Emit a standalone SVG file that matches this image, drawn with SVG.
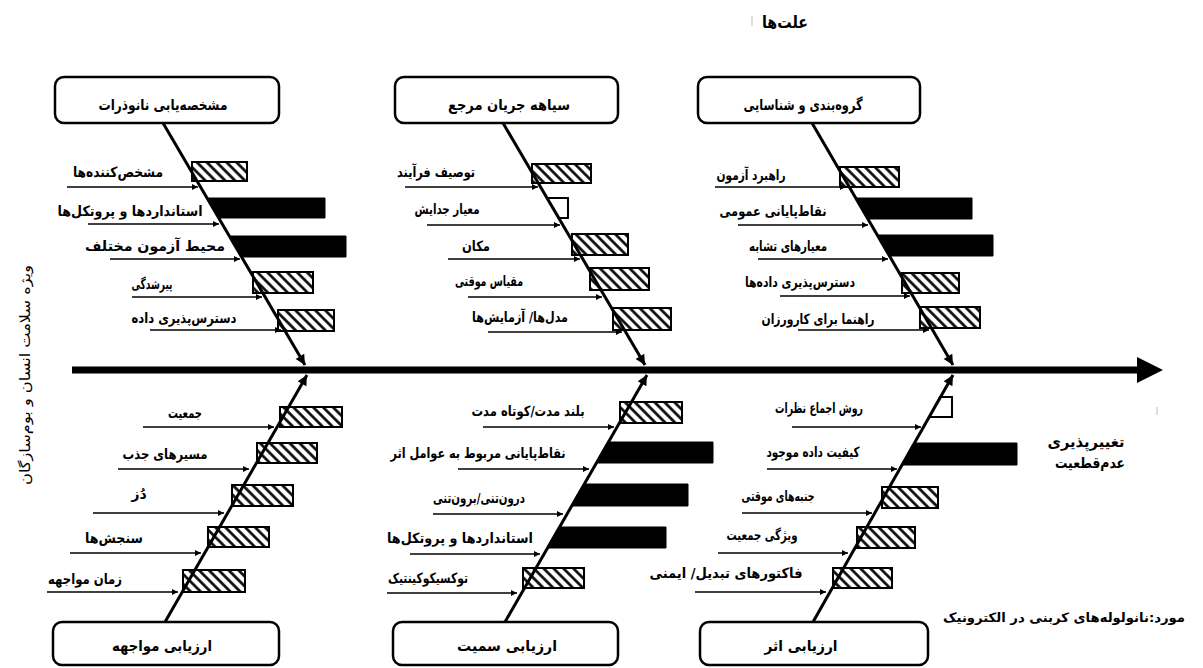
<svg xmlns="http://www.w3.org/2000/svg" width="1203" height="668" viewBox="0 0 1203 668">
<style>
.lbl{font-family:"DejaVu Sans",sans-serif;font-size:14px;font-weight:bold;fill:#000;text-anchor:middle}
.ttl{font-family:"DejaVu Sans",sans-serif;font-size:15px;font-weight:bold;fill:#000;text-anchor:middle}
.side{font-family:"DejaVu Sans",sans-serif;font-size:14px;fill:#000;text-anchor:middle}
.box{fill:#fff;stroke:#000;stroke-width:2.5}
.bone{stroke:#000;stroke-width:3;fill:none}
.sub{stroke:#000;stroke-width:1.6;fill:none}
.hb{fill:url(#hatch);stroke:#000;stroke-width:2}
.bb{fill:#000;stroke:#000;stroke-width:1}
.wb{fill:#fff;stroke:#000;stroke-width:2}
</style>
<defs>
<pattern id="hatch" patternUnits="userSpaceOnUse" width="7" height="7" patternTransform="rotate(-45)">
<rect width="7" height="7" fill="#fff"/>
<line x1="3.5" y1="0" x2="3.5" y2="7" stroke="#000" stroke-width="2.6"/>
</pattern>
<marker id="ah" viewBox="0 0 10 10" refX="10" refY="5" markerWidth="8" markerHeight="6" markerUnits="userSpaceOnUse" orient="auto"><path d="M0,0 L10,5 L0,10 z" fill="#000"/></marker>
<marker id="bh" viewBox="0 0 10 10" refX="10" refY="5" markerWidth="13" markerHeight="10" markerUnits="userSpaceOnUse" orient="auto"><path d="M0,0 L10,5 L0,10 z" fill="#000"/></marker>
</defs>
<rect width="1203" height="668" fill="#fff"/>

<text x="785" y="28" font-family="DejaVu Sans,sans-serif" font-size="17" font-weight="bold" text-anchor="middle" textLength="46" lengthAdjust="spacingAndGlyphs">علت‌ها</text>
<line x1="752" y1="16" x2="752" y2="26" stroke="#bbb" stroke-width="1"/>
<line x1="1157" y1="407" x2="1157" y2="415" stroke="#bbb" stroke-width="1"/>

<g id="bars">
<rect class="hb" x="192" y="162" width="55" height="19"/>
<polygon class="bb" points="207,198 325,198 325,218 219,218"/>
<polygon class="bb" points="229,236 346,236 346,257 242,257"/>
<rect class="hb" x="253" y="272" width="60" height="21"/>
<rect class="hb" x="278" y="310" width="56" height="21"/>
<rect class="hb" x="532" y="164" width="59" height="19"/>
<polygon class="wb" points="547,198 568,198 568,218 559,218"/>
<rect class="hb" x="572" y="234" width="56" height="21"/>
<rect class="hb" x="590" y="268" width="59" height="22"/>
<rect class="hb" x="613" y="308" width="58" height="22"/>
<rect class="hb" x="840" y="167" width="59" height="20"/>
<polygon class="bb" points="856,198 972,198 972,219 868,219"/>
<polygon class="bb" points="877,235 993,235 993,256 890,256"/>
<rect class="hb" x="902" y="273" width="57" height="20"/>
<rect class="hb" x="920" y="307" width="60" height="21"/>
<rect class="hb" x="280" y="407" width="62" height="20"/>
<rect class="hb" x="257" y="443" width="60" height="20"/>
<rect class="hb" x="232" y="485" width="61" height="21"/>
<rect class="hb" x="208" y="527" width="61" height="20"/>
<rect class="hb" x="183" y="570" width="62" height="22"/>
<rect class="hb" x="620" y="402" width="62" height="21"/>
<polygon class="bb" points="608,442 713,442 713,463 596,463"/>
<polygon class="bb" points="584,484 688,484 688,506 571,506"/>
<polygon class="bb" points="559,527 666,527 666,548 547,548"/>
<rect class="hb" x="523" y="568" width="61" height="20"/>
<polygon class="wb" points="940,397 952,397 952,417 929,417"/>
<polygon class="bb" points="914,443 1017,443 1017,465 902,465"/>
<rect class="hb" x="882" y="487" width="56" height="21"/>
<rect class="hb" x="857" y="527" width="58" height="21"/>
<rect class="hb" x="833" y="568" width="59" height="20"/>
</g>

<g id="connectors">
<line x1="72" y1="370" x2="1140" y2="370" stroke="#000" stroke-width="7"/>
<polygon points="1137,357 1163,370 1137,383" fill="#000"/>
<line class="bone" x1="163" y1="123" x2="305" y2="365" marker-end="url(#bh)"/>
<line class="bone" x1="503" y1="123" x2="645" y2="365" marker-end="url(#bh)"/>
<line class="bone" x1="812" y1="123" x2="953" y2="365" marker-end="url(#bh)"/>
<line class="bone" x1="165" y1="622" x2="307" y2="375" marker-end="url(#bh)"/>
<line class="bone" x1="505" y1="622" x2="647" y2="375" marker-end="url(#bh)"/>
<line class="bone" x1="813" y1="622" x2="953" y2="375" marker-end="url(#bh)"/>

<line class="sub" x1="67" y1="187" x2="198" y2="187" marker-end="url(#ah)"/>
<line class="sub" x1="88" y1="224" x2="219" y2="224" marker-end="url(#ah)"/>
<line class="sub" x1="110" y1="259" x2="240" y2="259" marker-end="url(#ah)"/>
<line class="sub" x1="132" y1="297" x2="262" y2="297" marker-end="url(#ah)"/>
<line class="sub" x1="150" y1="330" x2="281" y2="330" marker-end="url(#ah)"/>

<line class="sub" x1="405" y1="187" x2="538" y2="187" marker-end="url(#ah)"/>
<line class="sub" x1="427" y1="225" x2="560" y2="225" marker-end="url(#ah)"/>
<line class="sub" x1="448" y1="259" x2="580" y2="259" marker-end="url(#ah)"/>
<line class="sub" x1="468" y1="297" x2="602" y2="297" marker-end="url(#ah)"/>
<line class="sub" x1="488" y1="332" x2="622" y2="332" marker-end="url(#ah)"/>

<line class="sub" x1="715" y1="187" x2="846" y2="187" marker-end="url(#ah)"/>
<line class="sub" x1="738" y1="225" x2="868" y2="225" marker-end="url(#ah)"/>
<line class="sub" x1="758" y1="259" x2="888" y2="259" marker-end="url(#ah)"/>
<line class="sub" x1="780" y1="296" x2="910" y2="296" marker-end="url(#ah)"/>
<line class="sub" x1="798" y1="330" x2="929" y2="330" marker-end="url(#ah)"/>

<line class="sub" x1="143" y1="427" x2="274" y2="427" marker-end="url(#ah)"/>
<line class="sub" x1="118" y1="469" x2="249" y2="469" marker-end="url(#ah)"/>
<line class="sub" x1="93" y1="513" x2="224" y2="513" marker-end="url(#ah)"/>
<line class="sub" x1="70" y1="553" x2="201" y2="553" marker-end="url(#ah)"/>
<line class="sub" x1="47" y1="592" x2="178" y2="592" marker-end="url(#ah)"/>

<line class="sub" x1="483" y1="427" x2="614" y2="427" marker-end="url(#ah)"/>
<line class="sub" x1="458" y1="469" x2="589" y2="469" marker-end="url(#ah)"/>
<line class="sub" x1="433" y1="514" x2="563" y2="514" marker-end="url(#ah)"/>
<line class="sub" x1="410" y1="554" x2="540" y2="554" marker-end="url(#ah)"/>
<line class="sub" x1="387" y1="593" x2="517" y2="593" marker-end="url(#ah)"/>

<line class="sub" x1="792" y1="427" x2="921" y2="427" marker-end="url(#ah)"/>
<line class="sub" x1="767" y1="469" x2="897" y2="469" marker-end="url(#ah)"/>
<line class="sub" x1="742" y1="513" x2="872" y2="513" marker-end="url(#ah)"/>
<line class="sub" x1="718" y1="553" x2="848" y2="553" marker-end="url(#ah)"/>
<line class="sub" x1="695" y1="592" x2="826" y2="592" marker-end="url(#ah)"/>
</g>

<g id="labels">
<text class="lbl" x="118" y="177" textLength="90" lengthAdjust="spacingAndGlyphs">مشخص‌کننده‌ها</text>
<text class="lbl" x="130" y="216" textLength="145" lengthAdjust="spacingAndGlyphs">استانداردها و پروتکل‌ها</text>
<text class="lbl" x="155" y="251" textLength="140" lengthAdjust="spacingAndGlyphs">محیط آزمون مختلف</text>
<text class="lbl" x="152" y="289" textLength="41" lengthAdjust="spacingAndGlyphs">پیرشدگی</text>
<text class="lbl" x="184" y="323" textLength="105" lengthAdjust="spacingAndGlyphs">دسترس‌پذیری داده</text>

<text class="lbl" x="436" y="177" textLength="78" lengthAdjust="spacingAndGlyphs">توصیف فرآیند</text>
<text class="lbl" x="447" y="214" textLength="65" lengthAdjust="spacingAndGlyphs">معیار جدایش</text>
<text class="lbl" x="476" y="251" textLength="28" lengthAdjust="spacingAndGlyphs">مکان</text>
<text class="lbl" x="489" y="286" textLength="68" lengthAdjust="spacingAndGlyphs">مقیاس موقتی</text>
<text class="lbl" x="520" y="322" textLength="96" lengthAdjust="spacingAndGlyphs">مدل‌ها/ آزمایش‌ها</text>

<text class="lbl" x="751" y="180" textLength="69" lengthAdjust="spacingAndGlyphs">راهبرد آزمون</text>
<text class="lbl" x="773" y="216" textLength="107" lengthAdjust="spacingAndGlyphs">نقاط‌پایانی عمومی</text>
<text class="lbl" x="788" y="251" textLength="78" lengthAdjust="spacingAndGlyphs">معیارهای تشابه</text>
<text class="lbl" x="800" y="287" textLength="110" lengthAdjust="spacingAndGlyphs">دسترس‌پذیری داده‌ها</text>
<text class="lbl" x="818" y="324" textLength="113" lengthAdjust="spacingAndGlyphs">راهنما برای کارورزان</text>

<text class="lbl" x="185" y="418" textLength="34" lengthAdjust="spacingAndGlyphs">جمعیت</text>
<text class="lbl" x="165" y="459" textLength="85" lengthAdjust="spacingAndGlyphs">مسیرهای جذب</text>
<text class="lbl" x="139" y="499">دُز</text>
<text class="lbl" x="114" y="543" textLength="58" lengthAdjust="spacingAndGlyphs">سنجش‌ها</text>
<text class="lbl" x="85" y="584" textLength="74" lengthAdjust="spacingAndGlyphs">زمان مواجهه</text>

<text class="lbl" x="528" y="416" textLength="113" lengthAdjust="spacingAndGlyphs">بلند مدت/کوتاه مدت</text>
<text class="lbl" x="478" y="458" textLength="175" lengthAdjust="spacingAndGlyphs">نقاط‌پایانی مربوط به عوامل اثر</text>
<text class="lbl" x="479" y="503" textLength="92" lengthAdjust="spacingAndGlyphs">درون‌تنی/برون‌تنی</text>
<text class="lbl" x="460" y="543" textLength="146" lengthAdjust="spacingAndGlyphs">استانداردها و پروتکل‌ها</text>
<text class="lbl" x="428" y="583" textLength="80" lengthAdjust="spacingAndGlyphs">توکسیکوکینتیک</text>

<text class="lbl" x="819" y="413" textLength="88" lengthAdjust="spacingAndGlyphs">روش اجماع نظرات</text>
<text class="lbl" x="813" y="457" textLength="93" lengthAdjust="spacingAndGlyphs">کیفیت داده موجود</text>
<text class="lbl" x="778" y="501" textLength="73" lengthAdjust="spacingAndGlyphs">جنبه‌های موقتی</text>
<text class="lbl" x="762" y="540" textLength="71" lengthAdjust="spacingAndGlyphs">ویژگی جمعیت</text>
<text class="lbl" x="726" y="578" textLength="153" lengthAdjust="spacingAndGlyphs">فاکتورهای تبدیل/ ایمنی</text>
</g>

<g id="node-characterization">
<rect class="box" x="55" y="77" width="224" height="46" rx="9"/>
<text class="ttl" x="163" y="110" textLength="129" lengthAdjust="spacingAndGlyphs">مشخصه‌یابی نانوذرات</text>
</g>
<g id="node-reference-flow">
<rect class="box" x="395" y="77" width="223" height="46" rx="9"/>
<text class="ttl" x="509" y="110" textLength="122" lengthAdjust="spacingAndGlyphs">سیاهه جریان مرجع</text>
</g>
<g id="node-grouping">
<rect class="box" x="698" y="77" width="222" height="46" rx="9"/>
<text class="ttl" x="803" y="110" textLength="119" lengthAdjust="spacingAndGlyphs">گروه‌بندی و شناسایی</text>
</g>
<g id="node-exposure">
<rect class="box" x="53" y="622" width="226" height="43" rx="9"/>
<text class="ttl" x="162" y="651" textLength="100" lengthAdjust="spacingAndGlyphs">ارزیابی مواجهه</text>
</g>
<g id="node-toxicity">
<rect class="box" x="393" y="622" width="225" height="43" rx="9"/>
<text class="ttl" x="507" y="651" textLength="100" lengthAdjust="spacingAndGlyphs">ارزیابی سمیت</text>
</g>
<g id="node-effect">
<rect class="box" x="700" y="622" width="228" height="43" rx="9"/>
<text class="ttl" x="801" y="651" textLength="73" lengthAdjust="spacingAndGlyphs">ارزیابی اثر</text>
</g>

<g id="side-texts">
<text class="side" transform="translate(30,375) rotate(-90)" x="0" y="0" textLength="220" lengthAdjust="spacingAndGlyphs">ویژه سلامت انسان و بوم‌سازگان</text>
<text class="ttl" x="1086" y="447" textLength="77" lengthAdjust="spacingAndGlyphs">تغییرپذیری</text>
<text class="ttl" x="1090" y="468" textLength="70" lengthAdjust="spacingAndGlyphs">عدم‌قطعیت</text>
<text x="1064" y="622" font-family="DejaVu Sans,sans-serif" font-size="13" font-weight="bold" text-anchor="middle" textLength="242" lengthAdjust="spacingAndGlyphs">مورد:نانولوله‌های کربنی در الکترونیک</text>
</g>
</svg>
